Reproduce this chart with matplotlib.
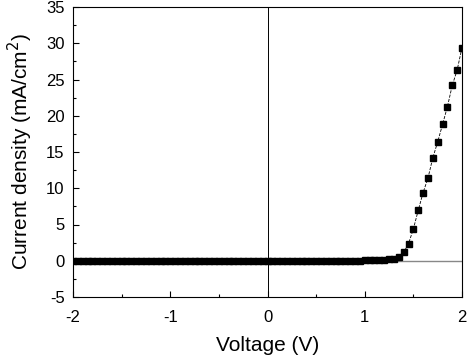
import numpy as np
import matplotlib
matplotlib.use('Agg')
import matplotlib.pyplot as plt
from matplotlib.ticker import MultipleLocator

plt.rcParams['font.family'] = ['Liberation Sans', 'DejaVu Sans']
plt.rcParams['axes.unicode_minus'] = False

# J-V data, step 0.05 V
voltage = np.round(np.arange(-2.0, 2.0001, 0.05), 2)
current_low = [0.0] * 60   # -2.0 ... 0.95
current_high = [0.02, 0.05, 0.08, 0.1, 0.12, 0.15, 0.2, 0.25, 0.5, 1.15,
                2.35, 4.4, 6.95, 9.4, 11.4, 14.2, 16.4, 18.8, 21.25, 24.2,
                26.3, 29.4]
current = current_low[:-1] + current_high

fig = plt.figure(figsize=(4.74, 3.57), dpi=100)
ax = fig.add_axes([73/474, 60/357, 389/474, 290/357])

ax.axhline(0, color='#888888', lw=1.0, zorder=1)
ax.axvline(0, color='black', lw=0.7, zorder=1)
ax.plot(voltage, current, color='black', ls='--', lw=0.6,
        marker='s', markersize=4.2, zorder=3)

ax.set_xlim(-2, 2)
ax.set_ylim(-5, 35)
ax.xaxis.set_major_locator(MultipleLocator(1))
ax.xaxis.set_minor_locator(MultipleLocator(0.5))
ax.yaxis.set_major_locator(MultipleLocator(5))
ax.yaxis.set_minor_locator(MultipleLocator(2.5))
ax.tick_params(which='both', direction='in', labelsize=12)
ax.tick_params(which='major', length=4, width=0.8)
ax.tick_params(which='minor', length=2.5, width=0.8)
ax.tick_params(axis='x', pad=9)
ax.tick_params(axis='y', pad=6)

ax.set_xlabel('Voltage (V)', fontsize=15, labelpad=8)
ax.set_ylabel('Current density (mA/cm$^2$)', fontsize=15, labelpad=8)

fig.savefig('out.png', dpi=100)
